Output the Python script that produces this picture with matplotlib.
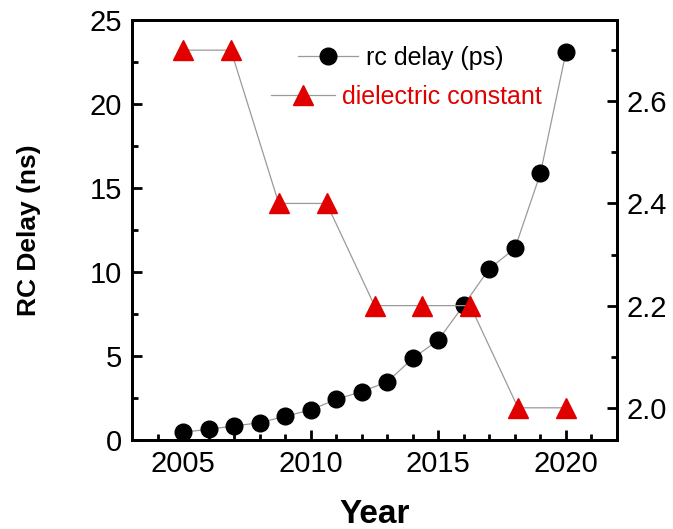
import matplotlib
matplotlib.use("Agg")
import matplotlib.pyplot as plt
from matplotlib.ticker import MultipleLocator

plt.rcParams['font.family'] = ['Liberation Sans', 'DejaVu Sans']

# RC delay per year
years = [2005, 2006, 2007, 2008, 2009, 2010, 2011, 2012,
         2013, 2014, 2015, 2016, 2017, 2018, 2019, 2020]
rc_delay = [0.46, 0.64, 0.83, 1.03, 1.41, 1.79, 2.42, 2.88,
            3.46, 4.86, 5.95, 8.04, 10.2, 11.4, 15.87, 23.08]

# Dielectric constant by node year
k_years = [2005, 2006.875, 2008.75, 2010.625, 2012.5, 2014.375, 2016.25, 2018.125, 2020]
k_values = [2.7, 2.7, 2.4, 2.4, 2.2, 2.2, 2.2, 2.0, 2.0]

line_grey = '#9a9a9a'
red = '#e00000'

fig = plt.figure(figsize=(6.73, 5.29), dpi=100)
ax = fig.add_axes([132 / 673, 89 / 529, 485 / 673, 420 / 529])
ax2 = ax.twinx()

l1, = ax.plot(years, rc_delay, '-', color=line_grey, lw=0.9,
              marker='o', ms=12, mfc='black', mec='black', zorder=3)
l2, = ax2.plot(k_years, k_values, '-', color=line_grey, lw=0.9,
               marker='^', ms=14, mfc=red, mec=red, zorder=3)

ax.set_xlim(2003, 2022)
ax.set_ylim(0, 25)
ax2.set_ylim(1.937, 2.759)

ax.xaxis.set_major_locator(MultipleLocator(5))
ax.xaxis.set_minor_locator(MultipleLocator(1))
ax.yaxis.set_major_locator(MultipleLocator(5))
ax.yaxis.set_minor_locator(MultipleLocator(2.5))
ax2.yaxis.set_major_locator(MultipleLocator(0.2))
ax2.yaxis.set_minor_locator(MultipleLocator(0.1))
ax2.yaxis.set_major_formatter(plt.FormatStrFormatter('%.1f'))

for a in (ax, ax2):
    for s in a.spines.values():
        s.set_linewidth(2.0)
ax.tick_params(axis='both', which='major', direction='in', length=7, width=2,
               labelsize=21, pad=7)
ax.tick_params(axis='both', which='minor', direction='in', length=4, width=2)
ax.tick_params(axis='y', right=False)
ax.tick_params(axis='x', top=False)
ax2.tick_params(axis='y', which='major', direction='in', length=7, width=2,
                labelsize=21, pad=7)
ax2.tick_params(axis='y', which='minor', direction='in', length=4, width=2)

ax.set_xlabel('Year', fontsize=24, fontweight='bold', labelpad=15)
ax.set_ylabel('RC Delay (ns)', fontsize=19, fontweight='bold', labelpad=35)

leg1 = ax.legend([l1], ['rc delay (ps)'], loc='center left',
                 bbox_to_anchor=(298 / 673, 1 - 58 / 529),
                 bbox_transform=fig.transFigure, frameon=False, fontsize=18,
                 handlelength=2.4, handletextpad=0.3, borderpad=0, borderaxespad=0)
ax.add_artist(leg1)
leg2 = ax.legend([l2], ['dielectric constant'], loc='center left',
                 bbox_to_anchor=(271 / 673, 1 - 97 / 529),
                 bbox_transform=fig.transFigure, frameon=False, fontsize=18,
                 handlelength=2.55, handletextpad=0.3, borderpad=0, borderaxespad=0)
for t in leg2.get_texts():
    t.set_color(red)

fig.savefig('out.png', dpi=100)
